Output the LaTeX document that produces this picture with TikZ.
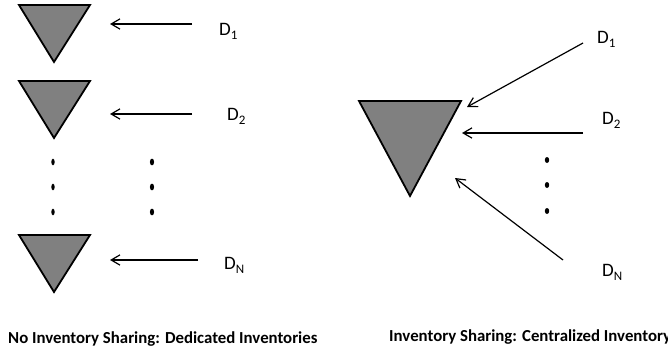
\documentclass[tikz,border=0pt]{standalone}
\usepackage{fontspec}
\setmainfont{Carlito}
\usetikzlibrary{arrows.meta, positioning}
\definecolor{stock}{RGB}{128,128,128}
\newcommand{\dsub}[1]{\raisebox{-4pt}{\fontsize{13}{13}\selectfont #1}}

\begin{document}
\begin{tikzpicture}[
    x=1pt, y=-1pt,
    tri/.style={draw=black, line width=1.8pt, fill=stock, line join=miter},
    arr/.style={-{Straight Barb[length=3.1mm, width=3.6mm]}, line width=1.2pt},
    dem/.style={anchor=base west, font=\fontsize{19}{22}\selectfont, inner sep=0pt},
    caption/.style={anchor=base west, font=\fontsize{16.8}{18}\selectfont\bfseries, inner sep=0pt},
]
\useasboundingbox (0,0) rectangle (668,353);

% dedicated inventories
\filldraw[tri] (19,5) -- (90,5) -- (54,62) -- cycle;
\filldraw[tri] (19,81) -- (90,81) -- (54,138) -- cycle;
\filldraw[tri] (19,235) -- (90,235) -- (54,292) -- cycle;

\node[dem] (d1) at (219,36)  {D\dsub{1}};
\node[dem] (d2) at (227,120) {D\dsub{2}};
\node[dem] (dn) at (224,269) {D\dsub{N}};

\coordinate (s1) at (192,24);  \coordinate (t1) at (110,24);
\coordinate (s2) at (192,114); \coordinate (t2) at (110,114);
\coordinate (sn) at (198,260); \coordinate (tn) at (110,260);
\draw[arr] (s1) -- (t1);
\draw[arr] (s2) -- (t2);
\draw[arr] (sn) -- (tn);

\foreach \y in {162,187,212} {
  \fill (53,\y) ellipse (1.7 and 3.3);
  \fill (152,\y) ellipse (2.1 and 3.4);
}

\node[caption] (capL) at (8,343) {No Inventory Sharing: Dedicated Inventories};

% centralized inventory
\filldraw[tri] (359,101) -- (461,101) -- (410,196) -- cycle;

\node[dem] (c1) at (597,44)  {D\dsub{1}};
\node[dem] (c2) at (602,124) {D\dsub{2}};
\node[dem] (cn) at (602,276) {D\dsub{N}};

\coordinate (u1) at (583,43);  \coordinate (v1) at (467,107);
\coordinate (u2) at (583,133); \coordinate (v2) at (462,133);
\coordinate (un) at (563,260); \coordinate (vn) at (455,178);
\draw[arr] (u1) -- (v1);
\draw[arr] (u2) -- (v2);
\draw[arr] (un) -- (vn);

\foreach \y in {160,185,211}
  \fill (547,\y) ellipse (2.2 and 3);

\node[caption] (capR) at (389,341) {Inventory Sharing: Centralized Inventory};
\end{tikzpicture}
\end{document}
